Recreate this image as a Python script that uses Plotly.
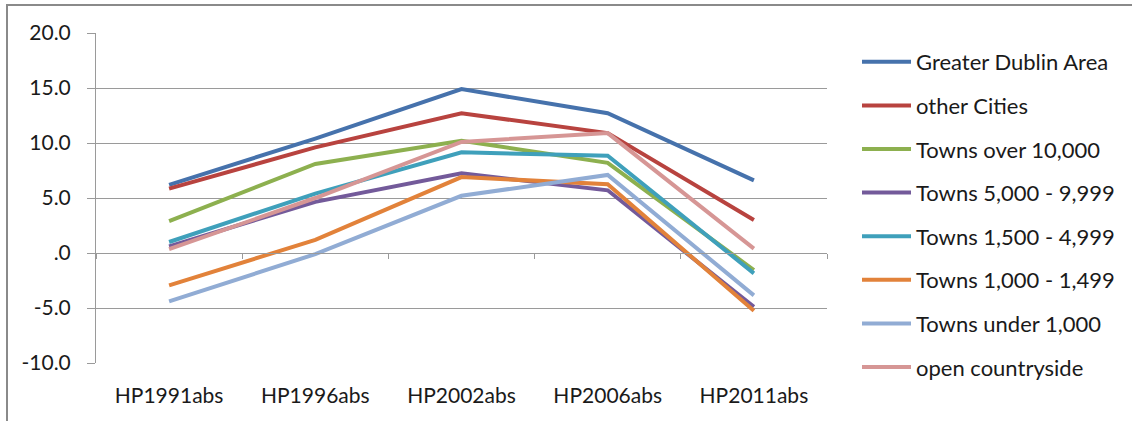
import plotly.graph_objects as go

categories = ["HP1991abs", "HP1996abs", "HP2002abs", "HP2006abs", "HP2011abs"]

series_names = [
    "Greater Dublin Area",
    "other Cities",
    "Towns over 10,000",
    "Towns 5,000 - 9,999",
    "Towns 1,500 - 4,999",
    "Towns 1,000 - 1,499",
    "Towns under 1,000",
    "open countryside",
]

greater_dublin = [6.2, 10.4, 14.9, 12.7, 6.6]
other_cities = [5.85, 9.6, 12.7, 10.9, 3.0]
towns_over_10000 = [2.9, 8.1, 10.2, 8.2, -1.55]
towns_5000_9999 = [0.6, 4.65, 7.25, 5.7, -4.9]
towns_1500_4999 = [1.0, 5.4, 9.15, 8.85, -1.85]
towns_1000_1499 = [-2.95, 1.2, 6.9, 6.25, -5.25]
towns_under_1000 = [-4.4, -0.1, 5.2, 7.1, -3.85]
open_countryside = [0.35, 5.0, 10.1, 10.9, 0.4]

series_values = [
    greater_dublin, other_cities, towns_over_10000, towns_5000_9999,
    towns_1500_4999, towns_1000_1499, towns_under_1000, open_countryside,
]

colors = ["#4672AC", "#B8433F", "#8DB04F", "#735A9A",
          "#3FA0BB", "#E2823A", "#91ACD4", "#D69695"]

y_tickvals = [-10, -5, 0, 5, 10, 15, 20]
y_ticktext = ["-10.0", "-5.0", ".0", "5.0", "10.0", "15.0", "20.0"]

FONT = "Lato"
TEXT = "#1a1a1a"
GRID = "#9a9a9a"

W, H = 1132, 421
L, R, T, B = 96, 827, 33, 363

def px_x(p):
    return (p - L) / (R - L)

def px_y(p):
    return (B - p) / (B - T)

fig = go.Figure()
for i, (name, vals, col) in enumerate(zip(series_names, series_values, colors)):
    fig.add_trace(go.Scatter(
        x=categories, y=vals, name=name, mode="lines",
        line=dict(color=col, width=4),
        legendgroup=f"g{i}",
    ))

# invisible trace on the tick-axis at y=0
fig.add_trace(go.Scatter(x=categories, y=[None] * len(categories), xaxis="x2",
                         showlegend=False, hoverinfo="skip", mode="lines"))

fig.update_layout(
    width=W, height=H,
    margin=dict(l=L, r=W - R, t=T, b=H - B),
    paper_bgcolor="white", plot_bgcolor="white",
    font=dict(family=FONT, color=TEXT, size=20),
    showlegend=True,
    legend=dict(
        x=px_x(857), y=px_y(41), xanchor="left", yanchor="top",
        font=dict(family=FONT, size=22, color=TEXT),
        itemwidth=49, tracegroupgap=12, bgcolor="rgba(0,0,0,0)",
        maxheight=420,
    ),
    xaxis=dict(
        type="category", categoryarray=categories, range=[-0.5, 4.5],
        showgrid=False, showline=False, ticks="", zeroline=False,
        tickfont=dict(family=FONT, size=21, color=TEXT),
        ticklabelstandoff=18,
    ),
    xaxis2=dict(
        type="category", categoryarray=categories, range=[-0.5, 4.5],
        overlaying="x", anchor="free", position=px_y(253), side="bottom",
        showticklabels=False, showgrid=False, showline=True, linecolor=GRID,
        linewidth=1, ticks="outside", ticklen=5, tickcolor=GRID,
        tickson="boundaries",
    ),
    yaxis=dict(
        range=[-10, 20], tickvals=y_tickvals, ticktext=y_ticktext,
        showgrid=True, gridcolor=GRID, gridwidth=1,
        showline=True, linecolor=GRID, linewidth=1,
        ticks="outside", ticklen=8, tickcolor=GRID,
        zeroline=False,
        tickfont=dict(family=FONT, size=21, color=TEXT),
        ticklabelstandoff=12,
    ),
    shapes=[
        dict(type="line", xref="paper", yref="paper",
             x0=px_x(7), x1=px_x(7), y0=px_y(5), y1=px_y(425),
             line=dict(color="#8a8a8a", width=2)),
        dict(type="line", xref="paper", yref="paper",
             x0=px_x(6), x1=px_x(1140), y0=px_y(5), y1=px_y(5),
             line=dict(color="#8a8a8a", width=2)),
    ],
)

fig.write_html("out.html")
